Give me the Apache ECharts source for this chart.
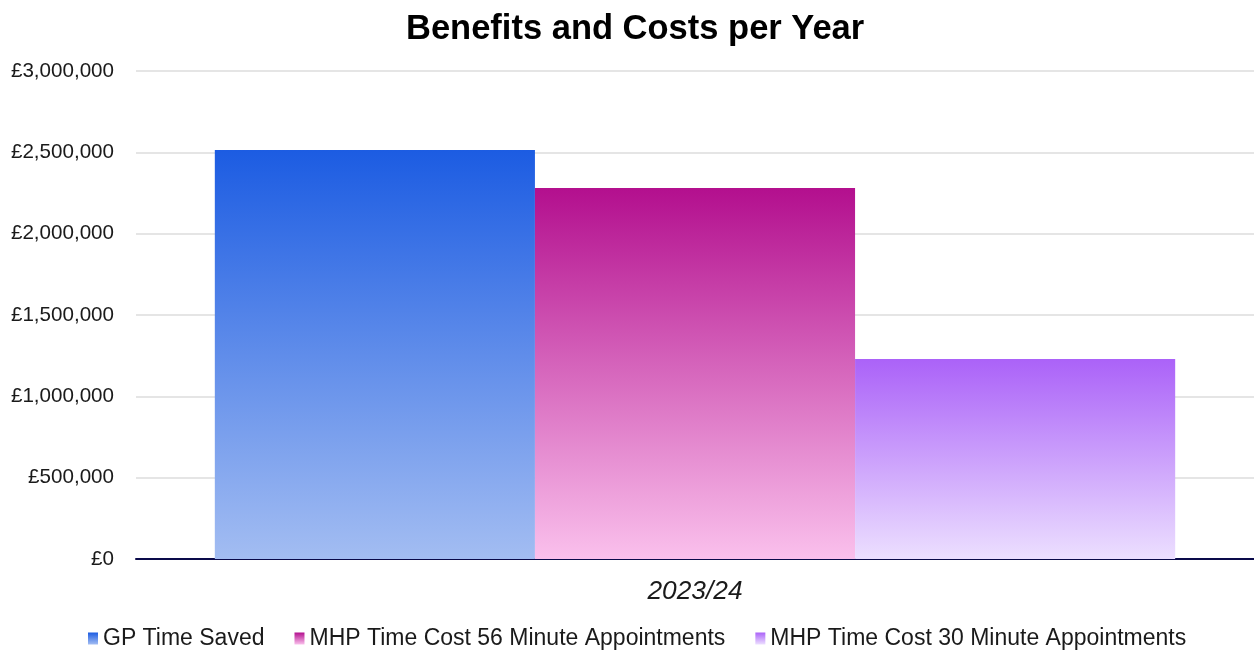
<!DOCTYPE html>
<html><head><meta charset="utf-8">
<script src="https://cdn.jsdelivr.net/npm/echarts@6/dist/echarts.min.js"></script>
<style>html,body{margin:0;padding:0;background:#fff}#c{width:1254px;height:650px}</style>
</head><body><div id="c"></div>
<script>
const categories = ['2023/24'];
const seriesNames = ['GP Time Saved', 'MHP Time Cost 56 Minute Appointments', 'MHP Time Cost 30 Minute Appointments'];
const gpTimeSaved = [2514000];
const mhp56 = [2281000];
const mhp30 = [1229000];
const yTicks = { min: 0, max: 3000000, interval: 500000 };

const grads = [['#1c5ce2', '#a3bdf2'], ['#b30f8e', '#fac0ec'], ['#ab62f8', '#ecdfff']];
function grad(c){ return new echarts.graphic.LinearGradient(0,0,0,1,[{offset:0,color:c[0]},{offset:1,color:c[1]}]); }
const font = '"Liberation Sans", Arial, sans-serif';
const dataSets = [gpTimeSaved, mhp56, mhp30];
const chart = echarts.init(document.getElementById('c'));
chart.setOption({
  animation: false,
  title: { text: 'Benefits and Costs per Year', left: 401, top: 7,
    textStyle: { fontFamily: font, fontSize: 34.5, fontWeight: 'bold', color: '#000' } },
  grid: { left: 136, right: 0, top: 71, bottom: 91 },
  legend: { top: 627, left: 88, padding: 0, itemWidth: 10, itemHeight: 12, itemGap: 30, icon: 'rect',
    textStyle: { fontFamily: font, fontSize: 23, color: '#1a1a1a', padding: [0,0,0,0] },
    data: seriesNames },
  xAxis: { type: 'category', data: categories,
    axisLine: { lineStyle: { color: '#0a0a4a', width: 2 } }, axisTick: { show: false },
    axisLabel: { fontFamily: font, fontSize: 26.3, fontStyle: 'italic', color: '#1a1a1a', margin: 20 } },
  yAxis: { type: 'value', min: yTicks.min, max: yTicks.max, interval: yTicks.interval,
    axisLabel: { fontFamily: font, fontSize: 20.6, color: '#1a1a1a', margin: 22,
      formatter: v => '£' + v.toLocaleString('en-GB') },
    splitLine: { lineStyle: { color: '#dddddd', width: 1.5 } } },
  series: seriesNames.map((n, i) => ({
    name: n, type: 'bar', data: dataSets[i], barGap: '0%', barCategoryGap: '14.1%',
    itemStyle: { color: grad(grads[i]) }
  }))
});
</script></body></html>
